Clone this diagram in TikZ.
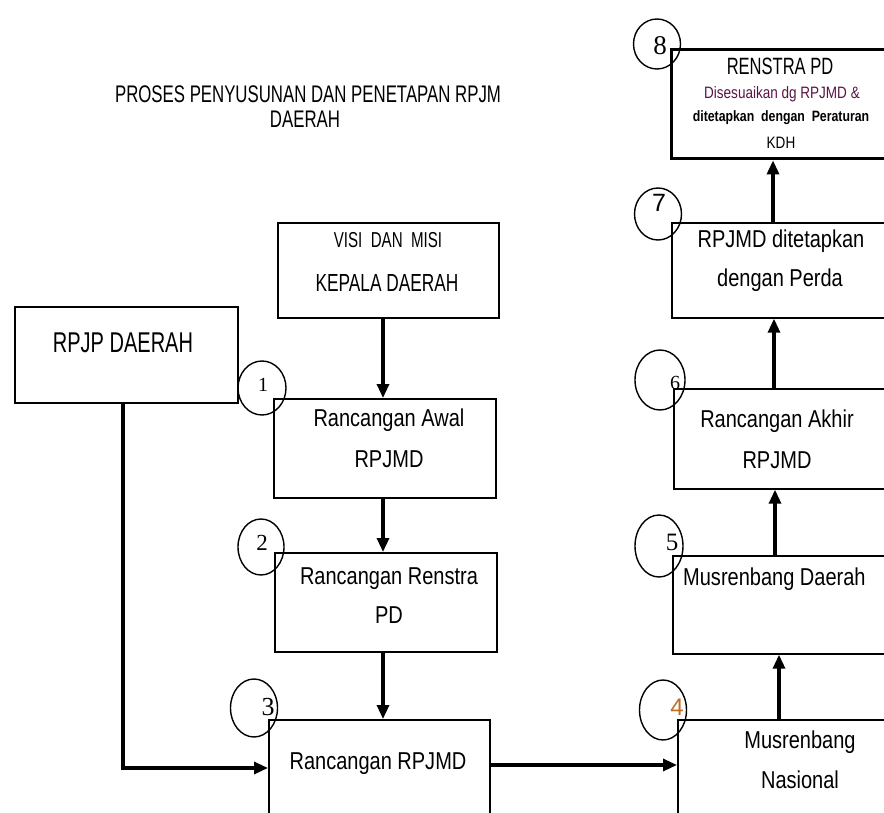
\documentclass[tikz,border=0pt]{standalone}
\usepackage{fontspec}
\usetikzlibrary{arrows.meta,shapes.geometric}
\newfontfamily\nf[FakeStretch=0.82]{Liberation Sans}
\newfontfamily\cf[FakeStretch=0.70]{Liberation Sans}
\newfontfamily\numfont{Liberation Serif}
\newfontfamily\numsans{Liberation Sans}
\definecolor{dpurple}{RGB}{90,20,70}
\definecolor{numorange}{RGB}{190,110,40}
\begin{document}
\begin{tikzpicture}[x=1pt,y=-1pt,
  box/.style={draw, line width=1.7pt, anchor=north west, inner sep=0pt},
  numc/.style={draw, ellipse, line width=1.4pt, inner sep=0pt},
  numt/.style={font=\numfont\fontsize{21}{24}\selectfont, inner sep=0pt},
  lbl/.style={anchor=base, inner sep=0pt, font=\nf\fontsize{24.4}{28}\selectfont},
  arr/.style={line width=3.2pt, line join=miter, -{Triangle[length=14pt,width=12pt]}}]
\useasboundingbox (0,0) rectangle (884,813);
\clip (0,0) rectangle (884,813);
\fill[white] (0,0) rectangle (884,813);

% title
\node[lbl, font=\cf\fontsize{24}{28}\selectfont] (t1) at (308,103) {PROSES PENYUSUNAN DAN PENETAPAN RPJM};
\node[lbl, font=\cf\fontsize{24}{28}\selectfont] (t2) at (305,128) {DAERAH};

% boxes
\node[box, minimum width=221pt, minimum height=95pt] (vis) at (277,222) {};
\node[box, minimum width=223pt, minimum height=96pt] (rpjp) at (14,306) {};
\node[box, minimum width=222pt, minimum height=99pt] (b1) at (273,398) {};
\node[box, minimum width=222pt, minimum height=99pt] (b2) at (274,552) {};
\node[box, minimum width=221pt, minimum height=130pt] (b3) at (268,719) {};
\node[box, minimum width=240pt, minimum height=130pt] (b4) at (677,719) {};
\node[box, minimum width=240pt, minimum height=98pt] (b5) at (672,555) {};
\node[box, minimum width=240pt, minimum height=100pt] (b6) at (673,388) {};
\node[box, minimum width=240pt, minimum height=95pt] (b7) at (671,222) {};
\node[box, line width=3.4pt, minimum width=240pt, minimum height=109pt] (b8) at (670,48) {};

% texts
\node[lbl, font=\cf\fontsize{21.6}{25}\selectfont] (vis1) at (388,248) {VISI\ \ DAN\ \ MISI};
\node[lbl, font=\cf\fontsize{24.7}{28}\selectfont] (vis2) at (387,291) {KEPALA DAERAH};
\node[lbl, font=\cf\fontsize{28.6}{32}\selectfont] (rp1) at (123,352) {RPJP DAERAH};
\node[lbl] (b1a) at (389,426) {Rancangan Awal};
\node[lbl] (b1b) at (389,467) {RPJMD};
\node[lbl] (b2a) at (389,584) {Rancangan Renstra};
\node[lbl] (b2b) at (389,623) {PD};
\node[lbl] (b3a) at (378,769) {Rancangan RPJMD};
\node[lbl] (b4a) at (800,748) {Musrenbang};
\node[lbl] (b4b) at (800,788) {Nasional};
\node[lbl, anchor=base west] (b5a) at (683,585) {Musrenbang Daerah};
\node[lbl] (b6a) at (777,427) {Rancangan Akhir};
\node[lbl] (b6b) at (777,468) {RPJMD};
\node[lbl] (b7a) at (781,248) {RPJMD ditetapkan};
\node[lbl] (b7b) at (780,287) {dengan Perda};
\node[lbl, font=\cf\fontsize{23.6}{26}\selectfont] (b8a) at (780,75) {RENSTRA PD};
\node[lbl, font=\nf\fontsize{16.5}{18}\selectfont, text=dpurple] (b8b) at (782,99) {Disesuaikan dg RPJMD \&};
\node[lbl, font=\nf\bfseries\fontsize{15}{17}\selectfont] (b8c) at (781,122) {ditetapkan\ \ dengan\ \ Peraturan};
\node[lbl, font=\nf\fontsize{16.5}{18}\selectfont] (b8d) at (781,149) {KDH};

% number circles
\node[numc, minimum width=48pt, minimum height=54pt] (c1) at (262,388) {};
\node[numc, minimum width=46pt, minimum height=56pt] (c2) at (261,547) {};
\node[numc, minimum width=47pt, minimum height=58pt] (c3) at (254,708) {};
\node[numc, minimum width=47pt, minimum height=60pt] (c4) at (663,710) {};
\node[numc, minimum width=48pt, minimum height=62pt] (c5) at (659,546) {};
\node[numc, minimum width=50pt, minimum height=60pt] (c6) at (660,380) {};
\node[numc, minimum width=47pt, minimum height=52pt] (c7) at (658,214) {};
\node[numc, minimum width=47pt, minimum height=50pt] (c8) at (657,44) {};
\node[numt, font=\numfont\fontsize{20}{24}\selectfont] (n1) at (263,385) {1};
\node[numt, font=\numfont\fontsize{23}{26}\selectfont] (n2) at (262,543) {2};
\node[numt, font=\numfont\fontsize{26}{30}\selectfont] (n3) at (268,707) {3};
\node[numt, font=\numsans\fontsize{24}{28}\selectfont, text=numorange] (n4) at (677,707) {4};
\node[numt, font=\numfont\fontsize{25}{28}\selectfont] (n5) at (672,542) {5};
\node[numt, font=\numfont\fontsize{20}{24}\selectfont] (n6) at (675,383) {6};
\node[numt, font=\numsans\fontsize{25}{28}\selectfont] (n7) at (659,203) {7};
\node[numt, font=\numfont\fontsize{27}{30}\selectfont] (n8) at (660,46) {8};

% helper coordinates
\coordinate (xl) at (383,0);
\coordinate (xr1) at (779,0);
\coordinate (xr2) at (775,0);
\coordinate (xr3) at (774,0);
\coordinate (xr4) at (773,0);
\coordinate (xrp) at (123,0);
\coordinate (yrp) at (0,768);
\coordinate (y34) at (0,765);

% connectors
\draw[arr] (vis.south -| xl) -- (b1.north -| xl);
\draw[arr] (b1.south -| xl) -- (b2.north -| xl);
\draw[arr] (b2.south -| xl) -- (b3.north -| xl);
\draw[arr] (rpjp.south -| xrp) |- (b3.west |- yrp);
\draw[arr] (b3.east |- y34) -- (b4.west |- y34);
\draw[arr] (b4.north -| xr1) -- (b5.south -| xr1);
\draw[arr] (b5.north -| xr2) -- (b6.south -| xr2);
\draw[arr] (b6.north -| xr3) -- (b7.south -| xr3);
\draw[arr] (b7.north -| xr4) -- (b8.south -| xr4);
\end{tikzpicture}
\end{document}
